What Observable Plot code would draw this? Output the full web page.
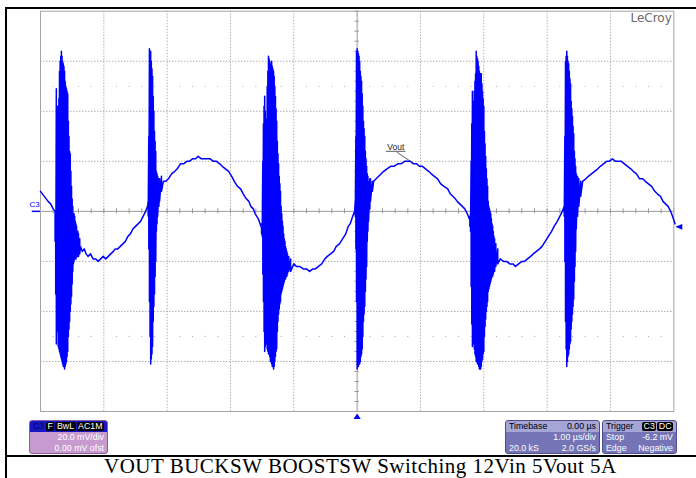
<!DOCTYPE html>
<html>
<head>
<meta charset="utf-8">
<script src="https://cdn.jsdelivr.net/npm/d3@7"></script>
<script src="https://cdn.jsdelivr.net/npm/@observablehq/plot@0.6"></script>
<style>
  html, body { margin: 0; padding: 0; background: #fff; }
  body { width: 696px; height: 478px; position: relative; overflow: hidden; font-family: "Liberation Sans", Arial, sans-serif; }
  #chart { position: absolute; left: 0; top: 0; }
  .frameL { position: absolute; left: 5px; top: 7px; width: 720px; height: 480px; border-left: 2px solid #000; border-top: 2px solid #000; box-sizing: border-box; }
  .capline { position: absolute; left: 5px; top: 455px; width: 720px; border-top: 2px solid #000; }
  .caption { position: absolute; left: 104px; top: 456px; font-family: "Liberation Serif", "Times New Roman", serif; font-size: 21px; letter-spacing: 0.5px; line-height: 21px; white-space: nowrap; color: #000; }
  .box { position: absolute; top: 420px; height: 34px; border-radius: 3px; box-sizing: border-box; font-size: 8.8px; color: #fff; overflow: hidden; }
  .row { height: 11px; line-height: 11px; display: flex; justify-content: space-between; padding: 0 3px; white-space: nowrap; }
  .hdr { height: 11px; line-height: 11px; display: flex; justify-content: space-between; align-items: center; padding: 0 3px; white-space: nowrap; }
  .badge { background: #000; color: #fff; border-radius: 2px; padding: 0 1.5px; margin-left: 1px; line-height: 9px; height: 9px; display: inline-block; }
</style>
</head>
<body>
<div id="chart"></div>
<div class="frameL"></div>
<div class="capline"></div>
<div class="caption" id="caption"></div>
<div id="boxes"></div>
<script>
// ---------- data (time in µs, voltage in mV) ----------
const timeDomain = [-5, 5];          // 1.00 µs/div, 10 div
const voltDomain = [-80, 80];        // 20.0 mV/div, 8 div
const triggerLevel = -6.2;           // mV
const triggerTime = 0;               // µs

// slow ripple of the output
const ripple = [
  [-5.00, 8], [-4.97, 7], [-4.94, 6], [-4.91, 5], [-4.88, 4], [-4.84, 3], [-4.80, 1],
  [-4.37, -14], [-4.34, -16], [-4.31, -15], [-4.28, -17], [-4.25, -18], [-4.21, -17], [-4.17, -19], [-4.13, -19], [-4.09, -20],
  [-4.05, -19], [-4.01, -18], [-3.97, -19], [-3.93, -18], [-3.89, -17], [-3.85, -16], [-3.82, -15], [-3.78, -15],
  [-3.74, -14], [-3.70, -13], [-3.66, -12], [-3.62, -10], [-3.58, -9], [-3.54, -7], [-3.50, -6], [-3.46, -5],
  [-3.42, -4], [-3.38, -2], [-3.34, 0], [-3.31, 2],
  [-3.06, 12], [-3.02, 12], [-2.98, 13], [-2.93, 15], [-2.88, 16], [-2.84, 17], [-2.79, 19], [-2.74, 19],
  [-2.69, 20], [-2.65, 20], [-2.60, 21], [-2.55, 21], [-2.51, 22], [-2.46, 21], [-2.41, 21], [-2.37, 21],
  [-2.32, 21], [-2.27, 20], [-2.22, 20], [-2.17, 19], [-2.13, 18], [-2.08, 17], [-2.03, 16], [-1.98, 14],
  [-1.94, 12], [-1.89, 10], [-1.84, 9], [-1.80, 7], [-1.75, 5], [-1.71, 4], [-1.68, 2], [-1.64, 1],
  [-1.61, -1], [-1.56, -3], [-1.52, -6],
  [-1.00, -21], [-0.96, -22], [-0.91, -22], [-0.85, -23], [-0.80, -23], [-0.75, -24], [-0.70, -23], [-0.66, -23],
  [-0.61, -22], [-0.56, -21], [-0.51, -19], [-0.47, -18], [-0.42, -17], [-0.37, -16], [-0.33, -14], [-0.28, -13],
  [-0.23, -11], [-0.18, -9], [-0.14, -6], [-0.11, -5], [-0.07, -2], [-0.04, 0],
  [0.26, 12], [0.30, 13], [0.34, 14], [0.38, 15], [0.42, 16], [0.47, 17], [0.53, 18], [0.58, 18],
  [0.64, 19], [0.69, 19], [0.75, 20], [0.80, 20], [0.84, 20], [0.89, 19], [0.94, 19], [0.98, 18],
  [1.03, 18], [1.08, 17], [1.13, 16], [1.17, 15], [1.22, 14], [1.27, 13], [1.32, 11], [1.37, 10],
  [1.43, 9], [1.47, 7], [1.51, 6], [1.55, 5], [1.58, 4], [1.62, 3], [1.66, 2], [1.70, 1], [1.74, -1], [1.77, -3],
  [2.26, -19], [2.31, -20], [2.36, -20], [2.41, -21], [2.46, -21], [2.50, -22], [2.55, -21], [2.60, -20],
  [2.64, -20], [2.69, -19], [2.74, -18], [2.78, -17], [2.83, -16], [2.88, -15], [2.92, -14], [2.97, -12],
  [3.02, -10], [3.07, -8], [3.11, -6], [3.16, -4], [3.20, -2], [3.24, 0],
  [3.56, 12], [3.61, 13], [3.65, 14], [3.70, 15], [3.75, 16], [3.80, 17], [3.84, 18], [3.89, 19],
  [3.94, 20], [3.98, 20], [4.03, 21], [4.08, 20], [4.13, 20], [4.17, 20], [4.22, 19], [4.27, 18],
  [4.32, 17], [4.36, 16], [4.41, 15], [4.46, 13], [4.51, 13], [4.55, 12], [4.60, 11], [4.65, 10],
  [4.70, 8], [4.74, 7], [4.79, 6], [4.83, 4], [4.87, 3], [4.91, 2], [4.95, 0], [4.98, -2], [5.02, -5]
];

// switching bursts: [time µs, upper envelope mV, lower envelope mV]
const spike1 = [
  [-4.77, 0, -12], [-4.76, -1, -33], [-4.75, 49, -53], [-4.74, 30, -45], [-4.73, 42, -48], [-4.72, 36, -54], [-4.71, 45, -55], [-4.70, 56, -56],
  [-4.69, 60, -57], [-4.68, 62, -58], [-4.67, 64, -59], [-4.66, 62, -60], [-4.65, 60, -61], [-4.64, 59, -62], [-4.63, 58, -62], [-4.62, 56, -63],
  [-4.61, 52, -62], [-4.60, 50, -61], [-4.59, 49, -60], [-4.58, 48, -58], [-4.57, 47, -56], [-4.56, 36, -50], [-4.55, 30, -47], [-4.54, 24, -44],
  [-4.53, 23, -40], [-4.52, 16, -37], [-4.51, 10, -34], [-4.50, 5, -29], [-4.49, 2, -24], [-4.48, -1, -21], [-4.47, -1, -20], [-4.46, -2, -19],
  [-4.45, -4, -19], [-4.44, -5, -19], [-4.43, -6, -18], [-4.42, -8, -18], [-4.41, -8, -18], [-4.40, -9, -18], [-4.38, -11, -17]
];
const spike2 = [
  [-3.30, 4, -2], [-3.29, 30, -15], [-3.28, 65, -36], [-3.27, 64, -50], [-3.26, 64, -61], [-3.25, 60, -59], [-3.24, 57, -57], [-3.23, 54, -54],
  [-3.22, 46, -44], [-3.21, 40, -38], [-3.20, 32, -33], [-3.19, 28, -26], [-3.18, 24, -20], [-3.17, 16, -8], [-3.16, 15, -5], [-3.15, 14, -2],
  [-3.13, 13, 2], [-3.12, 13, 4], [-3.09, 14, 8]
];
const spike3 = [
  [-1.51, -5, -9], [-1.50, -6, -10], [-1.49, 20, -25], [-1.48, 35, -36], [-1.47, 42, -48], [-1.46, 46, -56], [-1.45, 40, -54], [-1.44, 37, -53], [-1.43, 34, -53],
  [-1.42, 50, -55], [-1.41, 56, -56], [-1.40, 62, -57], [-1.39, 61, -57], [-1.38, 60, -58], [-1.37, 58, -60], [-1.36, 59, -60], [-1.35, 60, -61],
  [-1.34, 58, -62], [-1.33, 57, -62], [-1.32, 56, -63], [-1.31, 54, -62], [-1.30, 50, -60], [-1.29, 46, -58], [-1.28, 41, -56], [-1.27, 36, -55],
  [-1.26, 28, -48], [-1.25, 23, -44], [-1.24, 19, -41], [-1.23, 14, -39], [-1.22, 11, -37], [-1.21, 8, -36], [-1.20, 2, -33], [-1.19, -1, -32], [-1.18, -4, -31],
  [-1.17, -6, -30], [-1.16, -9, -29], [-1.15, -11, -28], [-1.14, -12, -27], [-1.13, -14, -27], [-1.12, -15, -26], [-1.11, -16, -26], [-1.10, -17, -25],
  [-1.08, -18, -24], [-1.05, -19, -24]
];
const spike4 = [
  [-0.03, 4, -2], [-0.02, 30, -15], [-0.01, 64, -36], [0.00, 65, -63], [0.01, 64, -62], [0.02, 63, -62], [0.03, 62, -61], [0.04, 60, -61],
  [0.05, 56, -60], [0.06, 54, -58], [0.07, 52, -57], [0.08, 47, -55], [0.09, 42, -50], [0.10, 36, -44], [0.11, 33, -41], [0.12, 30, -38],
  [0.13, 24, -32], [0.14, 21, -27], [0.15, 18, -22], [0.16, 15, -12], [0.17, 14, -8], [0.18, 12, -4], [0.20, 13, 1], [0.21, 13, 4], [0.24, 12, 8]
];
const spike5 = [
  [1.78, -2, -6], [1.79, -1, -8], [1.80, 20, -30], [1.81, 35, -45], [1.82, 48, -54], [1.83, 44, -53], [1.84, 40, -52], [1.85, 48, -55], [1.86, 52, -57],
  [1.87, 55, -58], [1.88, 64, -60], [1.89, 62, -60], [1.90, 61, -61], [1.91, 60, -61], [1.92, 58, -62], [1.93, 56, -63], [1.94, 55, -63],
  [1.95, 55, -63], [1.96, 55, -62], [1.97, 51, -60], [1.98, 48, -59], [1.99, 45, -57], [2.00, 42, -56], [2.01, 32, -50], [2.02, 27, -46],
  [2.03, 22, -43], [2.04, 17, -40], [2.05, 13, -38], [2.06, 10, -36], [2.07, 4, -32], [2.08, 2, -31], [2.09, 1, -30], [2.10, 0, -29], [2.11, -1, -28],
  [2.12, -3, -27], [2.13, -5, -26], [2.14, -6, -26], [2.15, -8, -25], [2.16, -10, -24], [2.17, -11, -24], [2.19, -13, -22], [2.22, -15, -21]
];
const spike6 = [
  [3.27, 2, -2], [3.28, 30, -20], [3.29, 60, -44], [3.30, 62, -55], [3.31, 64, -62], [3.32, 62, -60], [3.33, 60, -58], [3.34, 59, -57],
  [3.35, 56, -55], [3.36, 53, -53], [3.37, 51, -52], [3.38, 44, -47], [3.39, 41, -44], [3.40, 38, -41], [3.41, 34, -38], [3.42, 31, -35],
  [3.43, 24, -28], [3.44, 21, -22], [3.45, 18, -16], [3.46, 15, -7], [3.48, 14, -2], [3.50, 13, 2], [3.53, 12, 6]
];
const spikes = [spike1, spike2, spike3, spike4, spike5, spike6];

// annotation "Vout" (label position, leader line) in data units
const voutLabel = {t: 0.61, v: 24.6, text: "Vout"};
const voutUnderline = {t1: 0.46, t2: 0.77, v: 24};
const voutLeader = {t1: 0.63, v1: 23.6, t2: 0.89, v2: 19.2};

// scope read-outs
const chanHeader = ["C3", ["F", "BwL", "AC1M"]];
const chanRows = ["20.0 mV/div", "0.00 mV ofst"];
const tbHeader = ["Timebase", "0.00 µs"];
const tbRows = [["", "1.00 µs/div"], ["20.0 kS", "2.0 GS/s"]];
const trigHeader = ["Trigger", ["C3", "DC"]];
const trigRows = [["Stop", "-6.2 mV"], ["Edge", "Negative"]];
const captionText = "VOUT BUCKSW BOOSTSW Switching 12Vin 5Vout 5A";

// ---------- build ----------
const trace = ripple.map(([t, v]) => ({t, v}));
for (const s of spikes) for (const [t, hi, lo] of s) { trace.push({t, v: hi}); trace.push({t, v: lo}); }
trace.sort((a, b) => a.t - b.t);

const majorT = d3.range(-4, 5, 1).filter(d => d !== 0);
const majorV = d3.range(-60, 61, 20).filter(d => d !== 0);
const minorT = d3.range(-50, 51, 2).map(d => d / 10);
const minorV = d3.range(-80, 81, 4);
const dotT = minorT.filter(d => Math.abs(d - Math.round(d)) > 1e-6);

const blue = "#0000ff";
const gridColor = "#b0b0b0";
const triLeft = {draw(ctx, size) { const r = Math.sqrt(size / Math.PI); ctx.moveTo(-r, 0); ctx.lineTo(r, -r * 0.82); ctx.lineTo(r, r * 0.82); ctx.closePath(); }};
const triUp = {draw(ctx, size) { const r = Math.sqrt(size / Math.PI); ctx.moveTo(0, -r * 0.75); ctx.lineTo(r, r * 0.75); ctx.lineTo(-r, r * 0.75); ctx.closePath(); }};

const chart = Plot.plot({
  width: 696,
  height: 456,
  marginLeft: 40,
  marginRight: 22.7,
  marginTop: 10.7,
  marginBottom: 45,
  x: {domain: timeDomain, axis: null},
  y: {domain: voltDomain, axis: null},
  style: {background: "transparent", overflow: "visible", fontFamily: "Liberation Sans, Arial, sans-serif"},
  marks: [
    Plot.ruleX(majorT, {stroke: gridColor, strokeDasharray: "1.5,1.5"}),
    Plot.ruleY(majorV, {stroke: gridColor, strokeDasharray: "1.5,1.5"}),
    Plot.dot(dotT, {x: d => d, y: 50, r: 0.6, fill: "#aaa", stroke: null}),
    Plot.dot(dotT, {x: d => d, y: -50, r: 0.6, fill: "#aaa", stroke: null}),
    Plot.ruleX([0], {stroke: "#9a9a9a"}),
    Plot.ruleY([0], {stroke: "#9a9a9a"}),
    Plot.ruleX(minorT, {x: d => d, y1: -1.0, y2: 1.0, stroke: "#9a9a9a"}),
    Plot.ruleY(minorV, {y: d => d, x1: -0.035, x2: 0.035, stroke: "#9a9a9a"}),
    Plot.frame({stroke: "#a5a5a5"}),
    Plot.text(["LeCroy"], {frameAnchor: "top-right", dx: -2, dy: 2, textAnchor: "end", lineAnchor: "top", fontSize: 12, fill: "#6a6a6a", textDecoration: "underline", fontFamily: "DejaVu Sans, sans-serif"}),
    Plot.line(trace, {x: "t", y: "v", stroke: blue, strokeWidth: 1.5, strokeLinejoin: "round"}),
    Plot.text([voutLabel], {x: "t", y: "v", text: "text", fontSize: 8.5, fill: "#222", lineAnchor: "bottom", textAnchor: "middle"}),
    Plot.ruleY([voutUnderline], {y: "v", x1: "t1", x2: "t2", stroke: "#333", strokeWidth: 0.8}),
    Plot.link([voutLeader], {x1: "t1", y1: "v1", x2: "t2", y2: "v2", stroke: "#333", strokeWidth: 0.8}),
    Plot.text(["C3"], {x: timeDomain[0], y: 0, dx: -6, dy: -6.5, fontSize: 8, fill: blue}),
    Plot.ruleY([0], {x1: -5.13, x2: -5, stroke: blue, strokeWidth: 1.5}),
    Plot.dot([triggerLevel], {x: timeDomain[1], y: d => d, dx: 5, r: 3.5, symbol: triLeft, fill: blue, stroke: null}),
    Plot.dot([triggerTime], {x: d => d, y: voltDomain[0], dy: 4.7, r: 3.6, symbol: triUp, fill: blue, stroke: null})
  ]
});
document.getElementById("chart").appendChild(chart);
document.getElementById("caption").textContent = captionText;

// ---------- read-out boxes ----------
function badge(txt) { return `<span class="badge">${txt}</span>`; }
const boxes = document.getElementById("boxes");
boxes.innerHTML = `
<div class="box" style="left:29px;width:79px;background:#c79bd0;border:1px solid #8d5d9d;">
  <div class="hdr" style="background:#1616c4;color:#000;">
    <span style="color:#050550">${chanHeader[0]}</span>
    <span style="color:#9a9aff">${chanHeader[1].map(badge).join("")}</span>
  </div>
  ${chanRows.map(r => `<div class="row" style="justify-content:flex-end">${r}</div>`).join("")}
</div>
<div class="box" style="left:505px;width:95px;background:#7474b6;border:1px solid #4e4e8e;">
  <div class="hdr" style="background:#a6a6d6;color:#000;"><span>${tbHeader[0]}</span><span>${tbHeader[1]}</span></div>
  ${tbRows.map(r => `<div class="row"><span>${r[0]}</span><span>${r[1]}</span></div>`).join("")}
</div>
<div class="box" style="left:602px;width:75px;background:#7474b6;border:1px solid #4e4e8e;">
  <div class="hdr" style="background:#a6a6d6;color:#000;"><span>${trigHeader[0]}</span><span>${trigHeader[1].map(badge).join("")}</span></div>
  ${trigRows.map(r => `<div class="row"><span>${r[0]}</span><span>${r[1]}</span></div>`).join("")}
</div>`;
</script>
</body>
</html>
